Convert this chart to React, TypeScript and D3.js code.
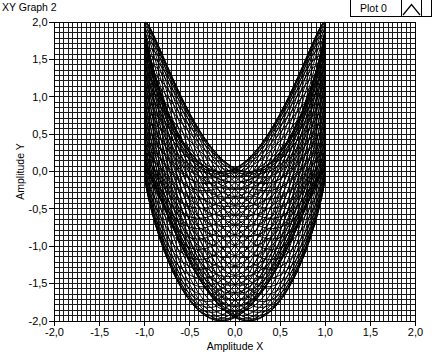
import React from "react";
import * as d3 from "d3";

// ---- data ----
const xTicks = [-2, -1.5, -1, -0.5, 0, 0.5, 1, 1.5, 2];
const yTicks = [-2, -1.5, -1, -0.5, 0, 0.5, 1, 1.5, 2];
const xDomain = [-2, 2];
const yDomain = [-2, 2];
// Lissajous generator parameters: x = cos(t), y = cos(2t + phase) + cos(drift * t)
const curveCycles = [45];
const curvePhase = [0.3];
const curveDrift = [1 + 1 / 45];
const samplesPerCycle = [160];
const titleText = "XY Graph 2";
const legendLabels = ["Plot 0"];
const xLabel = "Amplitude X";
const yLabel = "Amplitude Y";

const W = 432;
const H = 355;
const left = 54.5;
const right = 415.5;
const top = 22;
const bottom = 321;

const fmt = (v: number) => d3.format(".1f")(v).replace(".", ",").replace("−", "-");

export default function App() {
  const x = d3.scaleLinear().domain(xDomain).range([left, right]);
  const y = d3.scaleLinear().domain(yDomain).range([bottom, top]);

  const xMinor = d3.range(0, 81).map((i) => xDomain[0] + i * 0.05);
  const yMinor = d3.range(0, 57).map((i) => yDomain[0] + (i * 0.5) / 7);

  const pts: [number, number][] = [];
  const n = curveCycles[0] * samplesPerCycle[0];
  for (let k = 0; k <= n; k++) {
    const t = (k / samplesPerCycle[0]) * 2 * Math.PI;
    pts.push([Math.cos(t), Math.cos(2 * t + curvePhase[0]) + Math.cos(curveDrift[0] * t)]);
  }
  const line = d3
    .line<[number, number]>()
    .x((d) => x(d[0]))
    .y((d) => y(d[1]));

  const font = "'Liberation Sans', Arial, sans-serif";

  return (
    <svg
      width={W}
      height={H}
      style={{ position: "absolute", left: 0, top: 0 }}
      fontFamily={font}
    >
      <rect width={W} height={H} fill="white" />
      <text x={2} y={11} fontSize={10.5} fill="#000">
        {titleText}
      </text>

      {/* legend */}
      <rect x={350.5} y={-0.5} width={81} height={17} fill="white" stroke="#000" />
      <text x={360} y={11.5} fontSize={10.5} fill="#000">
        {legendLabels[0]}
      </text>
      <rect x={401.5} y={-0.5} width={20} height={17} fill="white" stroke="#000" />
      <path d="M403,15 L411.5,4.5 L420,15" fill="none" stroke="#000" strokeWidth={1.2} />

      {/* grid */}
      <g stroke="#1a1a1a" strokeWidth={1} shapeRendering="crispEdges">
        {xMinor.map((v, i) => (
          <line key={"vx" + i} x1={x(v)} x2={x(v)} y1={top} y2={bottom} />
        ))}
        {yMinor.map((v, i) => (
          <line key={"hy" + i} x1={left} x2={right} y1={y(v)} y2={y(v)} />
        ))}
      </g>

      {/* curve */}
      <path d={line(pts) || ""} fill="none" stroke="#000" strokeWidth={1} />

      {/* frame */}
      <rect
        x={left}
        y={top}
        width={right - left}
        height={bottom - top}
        fill="none"
        stroke="#000"
        shapeRendering="crispEdges"
      />

      {/* y axis */}
      <g fontSize={11} fill="#000">
        {yTicks.map((v) => (
          <g key={"yt" + v}>
            <line x1={left - 6} x2={left} y1={y(v)} y2={y(v)} stroke="#000" shapeRendering="crispEdges" />
            <text x={left - 7} y={y(v)} dy="0.35em" textAnchor="end">
              {fmt(v)}
            </text>
          </g>
        ))}
      </g>

      {/* x axis */}
      <g fontSize={11} fill="#000">
        {xTicks.map((v) => (
          <g key={"xt" + v}>
            <line x1={x(v)} x2={x(v)} y1={bottom} y2={bottom + 5} stroke="#000" shapeRendering="crispEdges" />
            <text x={x(v)} y={336} textAnchor="middle">
              {fmt(v)}
            </text>
          </g>
        ))}
      </g>

      <text x={(left + right) / 2} y={350} fontSize={10.5} textAnchor="middle" fill="#000">
        {xLabel}
      </text>
      <text
        transform={`translate(24, ${(top + bottom) / 2}) rotate(-90)`}
        fontSize={10.5}
        textAnchor="middle"
        fill="#000"
      >
        {yLabel}
      </text>
    </svg>
  );
}
